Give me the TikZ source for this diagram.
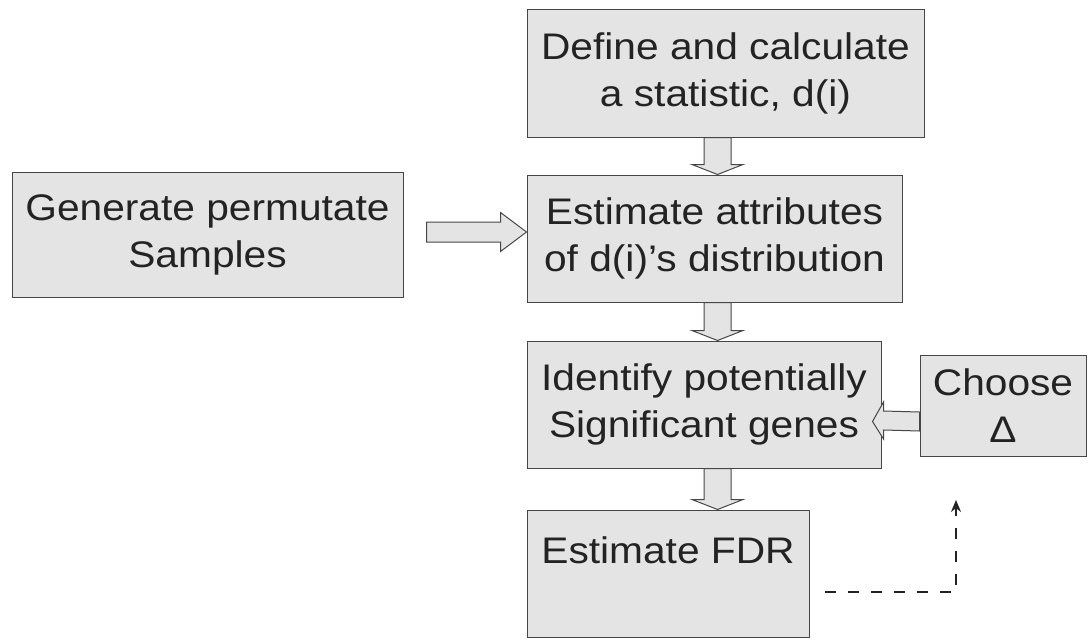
\documentclass[tikz,border=0pt]{standalone}
\usepackage{fontspec}
\setmainfont{Liberation Sans}[FakeStretch=1.1]
\usetikzlibrary{calc,arrows.meta}
\definecolor{boxfill}{RGB}{228,228,228}
\definecolor{edge}{RGB}{70,70,70}
\definecolor{ink}{RGB}{35,35,35}
\begin{document}
\begin{tikzpicture}[x=1pt,y=-1pt,
  box/.style={draw=edge,line width=1pt,fill=boxfill,inner sep=0pt,align=center,text=ink,font=\fontsize{37}{47}\selectfont},
  blockarrow/.style={draw=edge,line width=1pt,fill=boxfill,line join=miter},
  feedback/.style={draw=ink,line width=1.1pt,dash pattern=on 11pt off 12pt,-{Stealth[length=12pt,width=10pt]}}]
\path[use as bounding box,fill=white] (0,0) rectangle (1090,640);

\node[box,minimum width=397,minimum height=128] (b1) at (725.5,73) {Define and calculate\\a statistic, d(i)};
\node[box,minimum width=375,minimum height=127] (b2) at (714.5,238.5) {Estimate attributes\\of d(i)’s distribution};
\node[box,minimum width=391,minimum height=125] (gen) at (207.5,234.5) {Generate permutate\\Samples};
\node[box,minimum width=354,minimum height=127] (b3) at (704,404.5) {Identify potentially\\Significant genes};
\node[box,minimum width=166,minimum height=101] (choose) at (1003,405.5) {Choose\\Δ};
\node[box,minimum width=282,minimum height=127] (fdr) at (668,573.5) {Estimate FDR\\~};

\coordinate (ax) at (717.5,0);

% vertical block arrows
\foreach \a/\b in {b1/b2,b2/b3,b3/fdr}{
  \draw[blockarrow] ($(\a.south -| ax)+(-13.5,0)$) -- ($(\b.north -| ax)+(-13.5,-10)$)
    -- ($(\b.north -| ax)+(-25.5,-10)$) -- (\b.north -| ax)
    -- ($(\b.north -| ax)+(25.5,-10)$) -- ($(\b.north -| ax)+(13.5,-10)$)
    -- ($(\a.south -| ax)+(13.5,0)$) -- cycle;
}

% Generate -> Estimate attributes
\draw[blockarrow] ($(gen.east)+(23,-12.5)$) -- ($(b2.west)+(-26,-16.5)$)
  -- ($(b2.west)+(-26,-26)$) -- ($(b2.west)+(0,-6.5)$)
  -- ($(b2.west)+(-26,13)$) -- ($(b2.west)+(-26,3.5)$)
  -- ($(gen.east)+(23,7.5)$) -- cycle;

% Choose -> Identify
\draw[blockarrow] ($(choose.west)+(0,6.5)$) -- ($(b3.east)+(2,6.5)$)
  -- ($(b3.east)+(2,-2.5)$) -- ($(b3.east)+(-9,17)$)
  -- ($(b3.east)+(2,34.5)$) -- ($(b3.east)+(2,25.5)$)
  -- ($(choose.west)+(0,25.5)$) -- cycle;

% dashed feedback
\coordinate (d0) at (825,592);
\coordinate (d1) at (956,500);
\draw[feedback] (d0) -- (d0 -| d1) -- (d1);
\end{tikzpicture}
\end{document}
